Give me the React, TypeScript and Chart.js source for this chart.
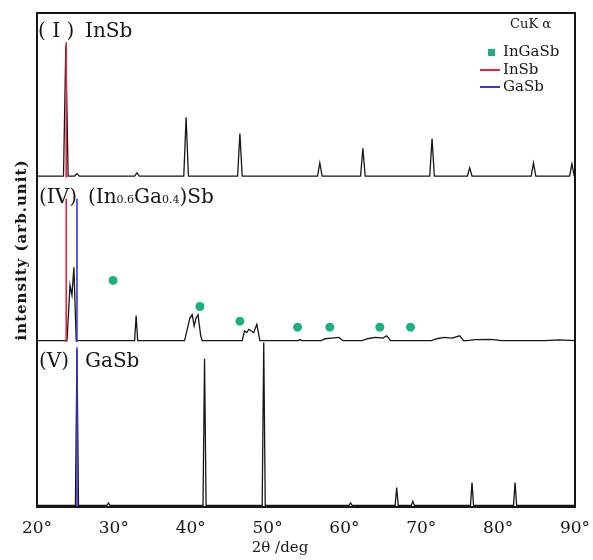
import React, { useEffect, useRef } from 'react';
import { Chart, registerables } from 'chart.js';

Chart.register(...registerables);

// ---------- data ----------
const xTickValues = [20, 30, 40, 50, 60, 70, 80, 90];

// (I) InSb trace: peak angles (deg) and heights (arb. unit, panel full scale = 100)
const inSbPeakPos = [23.75, 25.2, 33.0, 39.4, 46.4, 56.8, 62.4, 71.4, 76.3, 84.6, 89.6];
const inSbPeakHeight = [80, 1.5, 2, 36, 26, 8, 17, 23, 5, 8, 7.5];

// (IV) (In0.6Ga0.4)Sb trace: points along the pattern
const mixTraceX = [
  20, 23.9, 24.3, 24.55, 24.8, 25.1,
  32.7, 32.9, 33.1,
  39.2, 39.6, 39.9, 40.2, 40.45, 40.7, 40.95, 41.3, 41.5,
  46.7, 47.0, 47.3, 47.55, 47.9, 48.2, 48.6, 49.0,
  54.0, 54.2, 54.4,
  57.0, 57.5, 58.3, 59.3, 59.8,
  62.3, 63.0, 64.0, 65.0, 65.5, 66.0,
  71.3, 72.0, 73.0, 74.0, 75.0, 75.5,
  76.0, 77.0, 79.0, 80.5,
  86.0, 88.0, 90,
];
const mixTraceY = [
  0, 0, 34, 28, 45, 0,
  0, 15.5, 0,
  0, 8, 14, 16, 9, 14, 16, 3, 0,
  0, 6, 5, 7, 6, 5, 10, 0,
  0, 0.8, 0,
  0, 1.2, 1.6, 2, 0,
  0, 1.2, 2, 1.6, 3, 0,
  0, 1.2, 2, 1.6, 3, 0,
  0, 0.6, 0.8, 0,
  0, 0.5, 0,
];

// (V) GaSb trace
const gaSbPeakPos = [25.2, 29.3, 41.8, 49.5, 60.8, 66.8, 68.9, 76.6, 82.2];
const gaSbPeakHeight = [95, 1.5, 90, 100, 1.5, 11, 2.5, 14, 14];

// reference lines
const inSbRefAngle = 23.8;
const gaSbRefAngle = 25.2;
const inSbRefHeightI = 82;
const inSbRefHeightIV = 87;
const gaSbRefHeightIV = 87;
const gaSbRefHeightV = 97;

// InGaSb markers in panel (IV)
const ingasbMarkAngle = [29.9, 41.2, 46.4, 53.9, 58.1, 64.6, 68.6];
const ingasbMarkHeight = [37, 21, 12, 8.3, 8.3, 8.3, 8.3];

// ---------- styling ----------
const SERIF = '"DejaVu Serif", serif';
const INK = '#161616';
const RED = '#e8253f';
const BLUE = '#3b35cf';
const GREEN = '#1bb07c';

function peakTrace(pos: number[], h: number[], halfWidth: number) {
  const pts: { x: number; y: number }[] = [{ x: 20, y: 0 }];
  pos.forEach((p, i) => {
    pts.push({ x: p - halfWidth, y: 0 }, { x: p, y: h[i] }, { x: p + halfWidth, y: 0 });
  });
  pts.push({ x: 90, y: 0 });
  return pts;
}

function refLine(x: number, top: number) {
  return [
    { x, y: -1 },
    { x, y: top },
  ];
}

const decorPlugin = {
  id: 'decor',
  afterDatasetsDraw(chart: any) {
    const { ctx, chartArea: a, scales } = chart;
    ctx.save();
    // frame
    ctx.strokeStyle = INK;
    ctx.lineWidth = 2;
    ctx.strokeRect(a.left, a.top, a.right - a.left, a.bottom - a.top);

    // panel labels
    ctx.fillStyle = INK;
    ctx.textBaseline = 'alphabetic';
    ctx.textAlign = 'left';
    const big = `20px ${SERIF}`;
    const small = `11px ${SERIF}`;
    const yI = scales.yI.top + 24;
    const yIV = scales.yIV.top + 25;
    const yV = scales.yV.top + 25;
    ctx.font = big;
    ctx.fillText('( I )', a.left + 1, yI);
    ctx.fillText('InSb', a.left + 48, yI);
    ctx.fillText('(IV)', a.left + 2, yIV);
    let x = a.left + 51;
    const parts: [string, string][] = [
      ['(In', big],
      ['0.6', small],
      ['Ga', big],
      ['0.4', small],
      [')Sb', big],
    ];
    parts.forEach(([t, f]) => {
      ctx.font = f;
      ctx.fillText(t, x, yIV);
      x += ctx.measureText(t).width;
    });
    ctx.font = big;
    ctx.fillText('(V)', a.left + 2, yV);
    ctx.fillText('GaSb', a.left + 48, yV);

    // CuK alpha note
    ctx.font = `13px ${SERIF}`;
    ctx.textAlign = 'right';
    ctx.fillText('CuK α', a.right - 24, a.top + 15);

    // legend
    ctx.font = `15px ${SERIF}`;
    ctx.textAlign = 'left';
    ctx.textBaseline = 'middle';
    const lx = a.right - 95;
    const items = [
      { label: 'InGaSb', kind: 'marker', color: GREEN, y: a.top + 39 },
      { label: 'InSb', kind: 'line', color: RED, y: a.top + 57 },
      { label: 'GaSb', kind: 'line', color: BLUE, y: a.top + 74 },
    ];
    items.forEach((it) => {
      if (it.kind === 'marker') {
        ctx.fillStyle = it.color;
        ctx.fillRect(lx + 8, it.y - 3, 7, 7);
      } else {
        ctx.strokeStyle = it.color;
        ctx.lineWidth = 2;
        ctx.beginPath();
        ctx.moveTo(lx, it.y);
        ctx.lineTo(lx + 20, it.y);
        ctx.stroke();
      }
      ctx.fillStyle = INK;
      ctx.fillText(it.label, lx + 23, it.y);
    });

    // axis titles
    ctx.font = `15px ${SERIF}`;
    ctx.textAlign = 'center';
    ctx.textBaseline = 'alphabetic';
    ctx.fillText('2θ /deg', 280, a.bottom + 45);

    ctx.save();
    ctx.translate(a.left - 15, (a.top + a.bottom) / 2 - 10);
    ctx.rotate(-Math.PI / 2);
    ctx.font = `bold 15px ${SERIF}`;
    ctx.textAlign = 'center';
    ctx.textBaseline = 'middle';
    (ctx as any).letterSpacing = '1px';
    ctx.fillText('intensity (arb.unit)', 0, 0);
    ctx.restore();

    ctx.restore();
  },
};

function panelAxis() {
  return {
    type: 'linear' as const,
    position: 'left' as const,
    stack: 'xrd',
    stackWeight: 1,
    min: -1,
    max: 100,
    ticks: { display: false },
    grid: { display: false, drawTicks: false },
    border: { display: false },
  };
}

export default function App() {
  const canvasRef = useRef<HTMLCanvasElement | null>(null);

  useEffect(() => {
    if (!canvasRef.current) return;
    const traceStyle = {
      showLine: true,
      pointRadius: 0,
      borderColor: INK,
      borderWidth: 1.3,
      tension: 0,
      order: 2,
    };
    const refStyle = { showLine: true, pointRadius: 0, borderWidth: 1.6, order: 1 };
    const chart = new Chart(canvasRef.current, {
      type: 'scatter',
      data: {
        datasets: [
          { label: 'InSb', data: peakTrace(inSbPeakPos, inSbPeakHeight, 0.3), yAxisID: 'yI', ...traceStyle },
          {
            label: '(In0.6Ga0.4)Sb',
            data: mixTraceX.map((x, i) => ({ x, y: mixTraceY[i] })),
            yAxisID: 'yIV',
            ...traceStyle,
          },
          { label: 'GaSb', data: peakTrace(gaSbPeakPos, gaSbPeakHeight, 0.2), yAxisID: 'yV', ...traceStyle },
          { label: 'InSb ref', data: refLine(inSbRefAngle, inSbRefHeightI), yAxisID: 'yI', borderColor: RED, ...refStyle },
          { label: 'InSb ref', data: refLine(inSbRefAngle, inSbRefHeightIV), yAxisID: 'yIV', borderColor: RED, ...refStyle },
          { label: 'GaSb ref', data: refLine(gaSbRefAngle, gaSbRefHeightIV), yAxisID: 'yIV', borderColor: BLUE, ...refStyle },
          { label: 'GaSb ref', data: refLine(gaSbRefAngle, gaSbRefHeightV), yAxisID: 'yV', borderColor: BLUE, ...refStyle },
          {
            label: 'InGaSb',
            data: ingasbMarkAngle.map((x, i) => ({ x, y: ingasbMarkHeight[i] })),
            yAxisID: 'yIV',
            showLine: false,
            pointRadius: 4.5,
            pointStyle: 'circle',
            backgroundColor: GREEN,
            borderColor: GREEN,
            borderWidth: 0,
            order: 0,
          },
        ],
      },
      options: {
        animation: false,
        responsive: true,
        maintainAspectRatio: false,
        layout: { padding: { left: 37, right: 18, top: 13, bottom: 23 } },
        plugins: { legend: { display: false }, tooltip: { enabled: false } },
        scales: {
          x: {
            type: 'linear',
            position: 'bottom',
            min: 20,
            max: 90,
            afterBuildTicks: (axis: any) => {
              axis.ticks = xTickValues.map((v) => ({ value: v }));
            },
            afterFit: (axis: any) => {
              axis.paddingLeft = 0;
              axis.paddingRight = 0;
              axis.height = 30;
            },
            ticks: {
              callback: (v: any) => `${v}°`,
              font: { family: SERIF, size: 17 },
              color: INK,
              padding: 11,
              maxRotation: 0,
              autoSkip: false,
            },
            grid: { display: false, drawTicks: false },
            border: { display: false },
          },
          yV: panelAxis(),
          yIV: panelAxis(),
          yI: panelAxis(),
        },
      },
      plugins: [decorPlugin],
    } as any);
    return () => chart.destroy();
  }, []);

  return (
    <div style={{ position: 'fixed', left: 0, top: 0, width: 593, height: 560, background: '#fff' }}>
      <canvas ref={canvasRef} />
    </div>
  );
}
